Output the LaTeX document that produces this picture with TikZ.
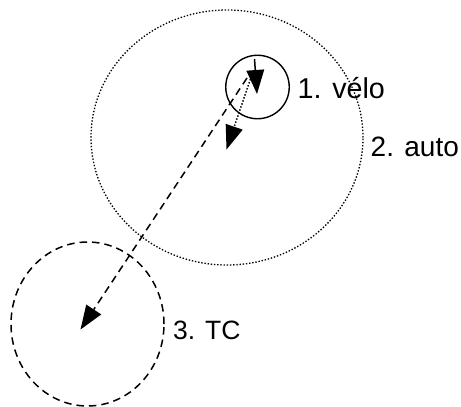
\documentclass[tikz,border=0pt]{standalone}
\usepackage{fontspec}
\setmainfont{Liberation Sans}
\usetikzlibrary{shapes.geometric,arrows.meta}
\begin{document}
\begin{tikzpicture}[x=1pt,y=-1pt,
  zone/.style={draw=black,ellipse,inner sep=0pt},
  arr/.style={-{Triangle[length=24pt,width=18pt,fill=black,line width=0pt]},line width=1.5pt},
  dotline/.style={dash pattern=on 1.4pt off 1.8pt},
  dashline/.style={dash pattern=on 7.5pt off 5pt},
  lbl/.style={anchor=base west,inner sep=0pt,text=black}]
\useasboundingbox (0,0) rectangle (461,407);
% zones
\node[zone,line width=1.4pt,minimum width=63.5pt,minimum height=63.5pt] (velo) at (257.5,87) {};
\node[zone,line width=1.3pt,dotline,minimum width=272pt,minimum height=255pt] (auto) at (227,137.5) {};
\node[zone,line width=1.5pt,dashline,minimum width=153pt,minimum height=164pt] (tc) at (87.5,324) {};
% arrow ends
\coordinate (s1) at (254.5,59);
\coordinate (e1) at (257,94);
\coordinate (s2) at (252.5,73);
\coordinate (e2) at (226.5,149.5);
\coordinate (s3) at (247,78);
\coordinate (e3) at (80.5,329.5);
\draw[arr] (s1) -- (e1);
\draw[arr,dotline] (s2) -- (e2);
\draw[arr,dashline] (s3) -- (e3);
% labels
\node[lbl,font=\fontsize{8}{8}\selectfont] (one) at (251.5,76) {1};
\node[lbl,font=\fontsize{28.7}{30}\selectfont] (l1) at (297.5,98.3) {1. vélo};
\node[lbl,font=\fontsize{28}{30}\selectfont] (l2) at (370.5,156) {2. auto};
\node[lbl,font=\fontsize{26.5}{30}\selectfont] (l3) at (173,339.3) {3. TC};
\end{tikzpicture}
\end{document}
